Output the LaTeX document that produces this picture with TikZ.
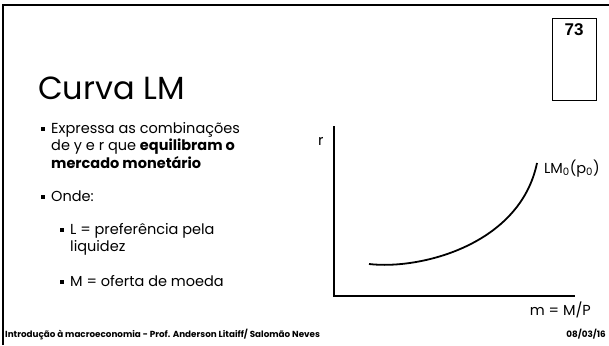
\documentclass[tikz,border=0pt]{standalone}
\usepackage{fontspec}
\setmainfont{Poppins}
\newfontfamily\numfont{Liberation Sans}
\usepackage{tikz}
\usetikzlibrary{positioning}

\tikzset{
  txt/.style={anchor=base west,inner sep=0pt,font=\fontsize{14.5}{17}\selectfont},
  bul/.style={fill=black,minimum size=4.2pt,inner sep=0pt},
  foot/.style={anchor=base,inner sep=0pt,font=\fontsize{8.8}{10}\bfseries\selectfont},
  axis/.style={line width=1.8pt},
}

\begin{document}
\begin{tikzpicture}[x=1pt,y=-1pt]
\useasboundingbox[fill=white] (0,0) rectangle (609,345);
% slide frame
\draw[line width=2pt] (3,345) -- (3,5) -- (609,5);
% page number box
\node[draw,line width=0.6pt,minimum width=44pt,minimum height=82pt,anchor=north west,inner sep=0pt] (numbox) at (552,18) {};
\node[anchor=base,inner sep=0pt,font=\fontsize{17}{20}\numfont\bfseries\selectfont] (num) at (574,36) {73};
% title
\node[anchor=base west,inner sep=0pt,font=\fontsize{32}{36}\selectfont] (title) at (38,99) {Curva LM};
% bullets
\node[bul] (b1) at (43,129) {};
\node[txt] (t1) at (51,133) {Expressa as combinações};
\node[txt] (t2) at (51,150.5) {de y e r que \textbf{equilibram o}};
\node[txt] (t3) at (51,168) {\textbf{mercado monetário}};
\node[bul] (b2) at (43,197) {};
\node[txt] (t4) at (51,201) {Onde:};
\node[bul] (b3) at (62,230) {};
\node[txt] (t5) at (70,234) {L = preferência pela};
\node[txt] (t6) at (70,251.5) {liquidez};
\node[bul] (b4) at (62,282) {};
\node[txt] (t7) at (70,286) {M = oferta de moeda};
% graph
\coordinate (o) at (334,296);
\coordinate (ytop) at (334,126);
\coordinate (xend) at (575,296);
\draw[axis] (ytop) -- (o) -- (xend);
\node[txt] (rlab) at (318,145) {r};
\node[anchor=base east,inner sep=0pt,font=\fontsize{14.5}{17}\selectfont] (mlab) at (591,315) {m = M/P};
\coordinate (c0) at (369,264);
\coordinate (c1) at (537,163);
\draw[line width=1.8pt] (c0) .. controls (420,270) and (520,245) .. (c1);
\node[txt] (lm) at (544,173) {LM\textsubscript{0}(p\textsubscript{0})};
% footer
\node[foot,anchor=base west] (fl) at (5,337) {Introdução à macroeconomia - Prof. Anderson Litaiff/ Salomão Neves};
\node[foot,anchor=base east] (fr) at (606,337) {08/03/16};
\end{tikzpicture}
\end{document}
